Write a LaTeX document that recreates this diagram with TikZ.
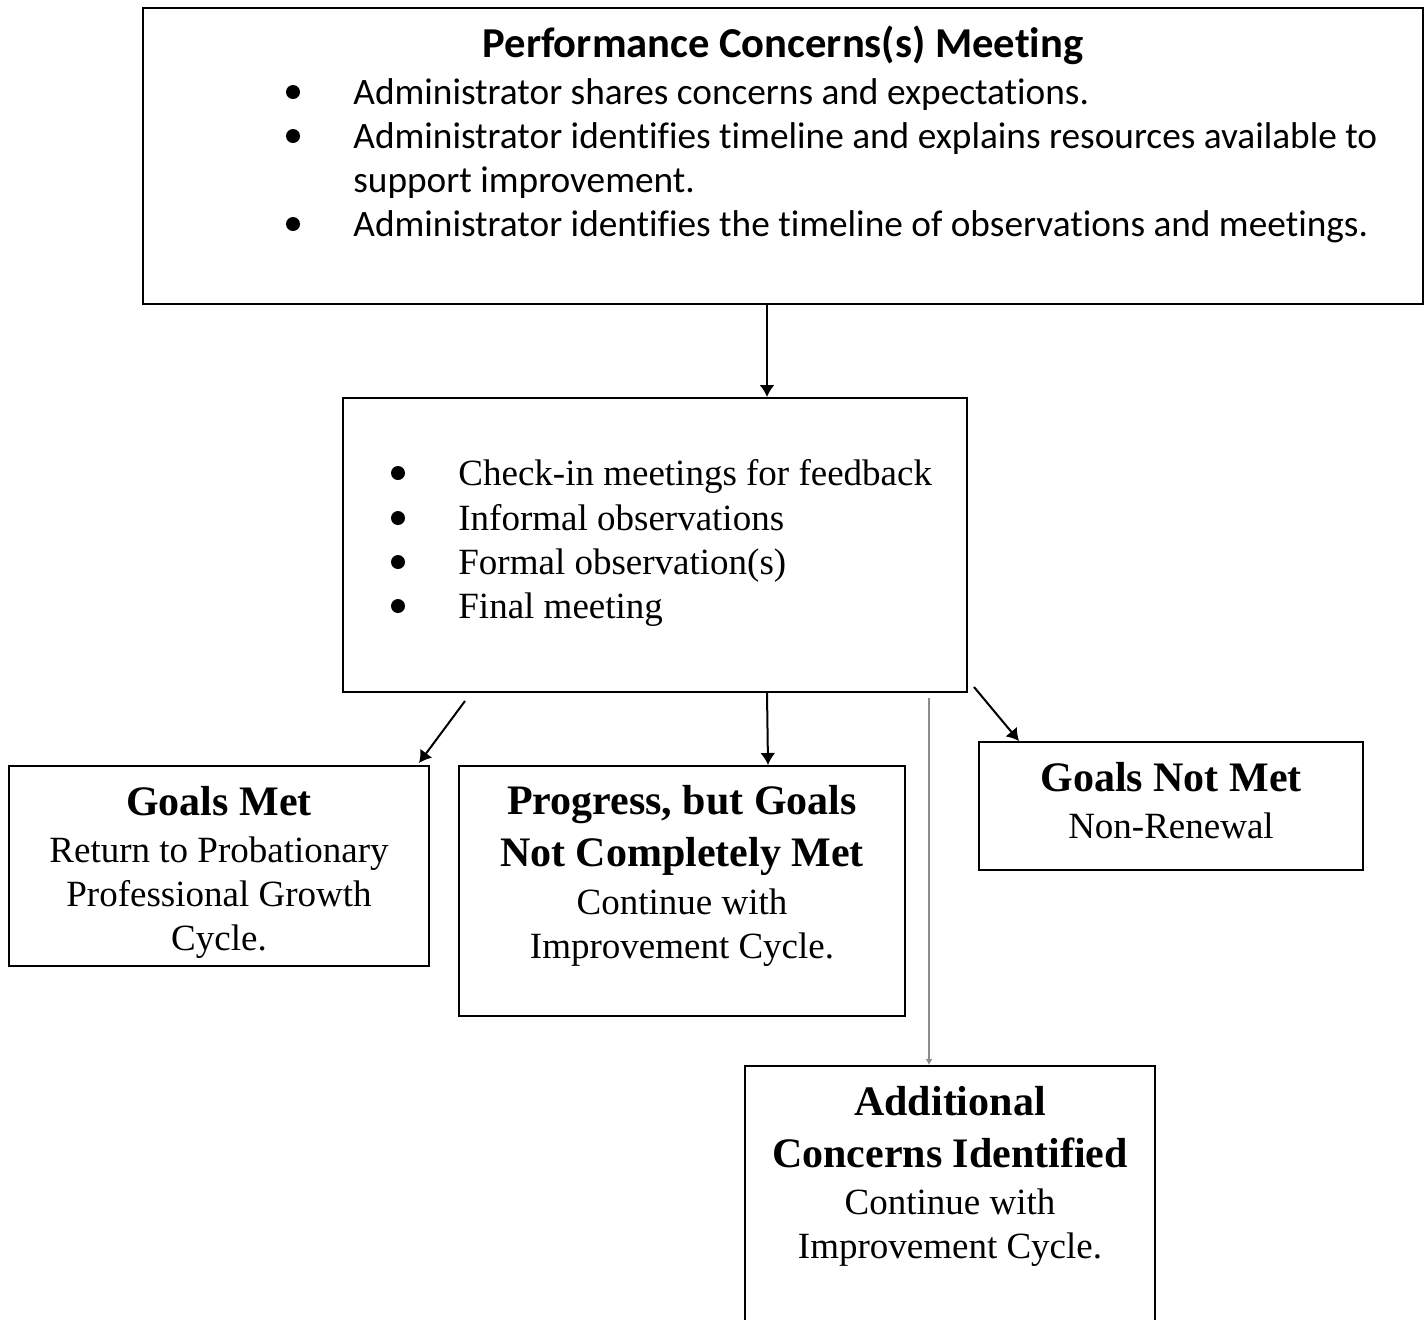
\documentclass[tikz,border=0pt]{standalone}
\usepackage{fontspec}
\setmainfont{Liberation Serif}
\newfontfamily\calibri[Ligatures=NoCommon]{Carlito}
\usetikzlibrary{arrows.meta}
\begin{document}
\begin{tikzpicture}[x=0.5pt,y=-0.5pt,
box/.style={draw, line width=1pt, inner sep=0pt},
dot/.style={circle, fill, inner sep=0pt, minimum size=7pt},
topline/.style={anchor=mid west, inner sep=0pt, font=\calibri\fontsize{18.65}{22}\selectfont},
line/.style={anchor=mid west, inner sep=0pt, font=\fontsize{18.5}{22}\selectfont},
head/.style={align=center, inner sep=0pt, font=\bfseries\fontsize{21}{26}\selectfont},
body/.style={align=center, inner sep=0pt, font=\fontsize{18.5}{22}\selectfont},
arr/.style={line width=1pt, -{Latex[length=6pt,width=7.5pt]}}]
\useasboundingbox (0,0) rectangle (1424,1319);
\fill[white] (0,0) rectangle (1424,1319);
% boxes
\node[box, minimum width=640pt, minimum height=148pt] (perf) at (783,156) {};
\node[box, minimum width=312pt, minimum height=147pt] (steps) at (655,545) {};
\node[box, minimum width=210pt, minimum height=100pt] (met) at (219,866) {};
\node[box, minimum width=223pt, minimum height=125pt] (partial) at (682,891) {};
\node[box, minimum width=192pt, minimum height=64pt] (notmet) at (1171,806) {};
\node[box, minimum width=205pt, minimum height=137pt] (extra) at (950,1203) {};
% top box
\node[inner sep=0pt, font=\calibri\bfseries\fontsize{21.3}{26}\selectfont] (perftitle) at (783,45) {Performance Concerns(s) Meeting};
\node[dot] (pb1) at (293,92) {};
\node[dot] (pb2) at (293,136) {};
\node[dot] (pb3) at (293,224) {};
\node[topline] (pt1) at (353,100) {Administrator shares concerns and expectations.};
\node[topline] (pt2) at (353,144) {Administrator identifies timeline and explains resources available to};
\node[topline] (pt3) at (353,188) {support improvement.};
\node[topline] (pt4) at (353,232) {Administrator identifies the timeline of observations and meetings.};
% middle box
\foreach \y/\t [count=\i] in {473/Check-in meetings for feedback, 518/Informal observations, 562/Formal observation(s), 606/Final meeting}{
  \node[dot] (sb\i) at (398,\y) {};
  \node[line] (st\i) at (458,\y+8) {\t};
}
% outcomes
\node[head] (methead) at (219,801) {Goals Met};
\node[body] (metbody) at (219,898) {Return to Probationary\\Professional Growth\\Cycle.};
\node[head] (partialhead) at (682,830) {Progress, but Goals\\Not Completely Met};
\node[body] (partialbody) at (682,928) {Continue with\\Improvement Cycle.};
\node[head] (notmethead) at (1171,777) {Goals Not Met};
\node[body] (notmetbody) at (1171,826) {Non-Renewal};
\node[head] (extrahead) at (950,1127) {Additional\\Concerns Identified};
\node[body] (extrabody) at (950,1228) {Continue with\\Improvement Cycle.};
% connectors
\draw[arr] ([xshift=-8pt]perf.south) -- ([xshift=56pt]steps.north);
\draw[arr] ([xshift=-95pt,yshift=-4pt]steps.south) -- ([xshift=-5.5pt,yshift=1pt]met.north east);
\draw[arr] ([xshift=56pt]steps.south) -- ([xshift=43pt]partial.north);
\draw[arr] ([xshift=3pt,yshift=3pt]steps.south east) -- ([xshift=20.5pt]notmet.north west);
\draw[line width=1pt, -{Latex[length=3pt,width=3.5pt]}, black!45] ([xshift=137pt,yshift=-2.5pt]steps.south) -- ([xshift=-10.5pt]extra.north);
\end{tikzpicture}
\end{document}
